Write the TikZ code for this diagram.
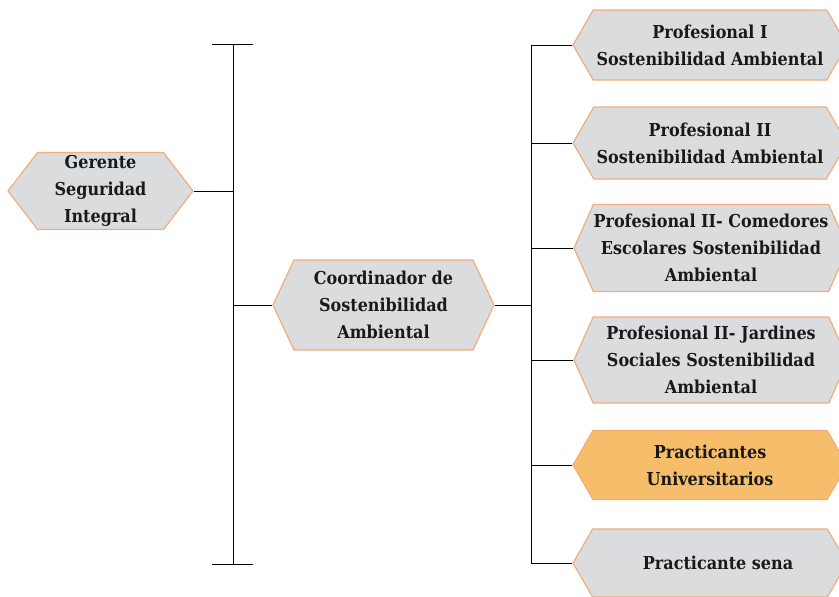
\documentclass[tikz,border=0pt]{standalone}
\usepackage{fontspec}
\setmainfont{DejaVu Serif Condensed}
\usetikzlibrary{shapes.symbols}

\definecolor{boxgray}{RGB}{218,220,221}
\definecolor{boxline}{RGB}{244,172,122}
\definecolor{boxorange}{RGB}{246,190,106}
\definecolor{boxtext}{RGB}{25,25,25}

\tikzset{
  hexbox/.style={signal, signal to=west and east, draw=boxline, fill=boxgray,
    line width=0.6pt, inner sep=0pt, align=center, text=boxtext,
    font=\fontsize{8.9}{13.6}\selectfont\bfseries},
  staffbox/.style={hexbox, minimum width=137pt, signal pointer angle=120},
  bar/.style={line width=0.5pt}
}

\begin{document}
\begin{tikzpicture}[x=0.5pt, y=-0.5pt]
    \path[use as bounding box, clip] (0,0) rectangle (839,596);

    % left column
    \node[hexbox, minimum width=92.5pt, minimum height=38.5pt, signal pointer angle=105]
        (gerente) at (100.5,191) {Gerente\\Seguridad\\Integral};
    \node[hexbox, minimum width=110.5pt, minimum height=45pt, signal pointer angle=130]
        (coord) at (383.5,305) {Coordinador de\\Sostenibilidad\\Ambiental};

    % staff on the right
    \node[staffbox, minimum height=35pt] (prof1) at (710,45)
        {Profesional I\\Sostenibilidad Ambiental};
    \node[staffbox, minimum height=36pt] (prof2) at (710,143)
        {Profesional II\\Sostenibilidad Ambiental};
    \node[staffbox, minimum height=43.5pt, signal pointer angle=132] (comedores) at (711,248)
        {Profesional II- Comedores\\Escolares Sostenibilidad\\Ambiental};
    \node[staffbox, minimum height=43pt, signal pointer angle=132] (jardines) at (711,360)
        {Profesional II- Jardines\\Sociales Sostenibilidad\\Ambiental};
    \node[staffbox, minimum height=34.5pt, fill=boxorange] (univ) at (710,465)
        {Practicantes\\Universitarios};
    \node[staffbox, minimum height=34pt] (sena) at (710,563)
        {\hspace{8pt}Practicante sena};

    % left bracket
    \coordinate (ltop) at (233,44);
    \coordinate (lbot) at (233,564);
    \draw[bar] (ltop) -- (lbot);
    \draw[bar] ([xshift=-10.5pt]ltop) -- ([xshift=10pt]ltop);
    \draw[bar] ([xshift=-10.5pt]lbot) -- ([xshift=10pt]lbot);
    \draw[bar] (gerente.east) -- (gerente.east -| ltop);
    \draw[bar] (coord.west) -- (coord.west -| ltop);

    % right bracket
    \coordinate (rtop) at (531,45);
    \coordinate (rbot) at (531,563);
    \draw[bar] (rtop) -- (rbot);
    \draw[bar] (coord.east) -- (coord.east -| rtop);
    \foreach \n in {prof1,prof2,comedores,jardines,univ,sena}
        \draw[bar] (\n.west) -- (\n.west -| rtop);
\end{tikzpicture}
\end{document}
